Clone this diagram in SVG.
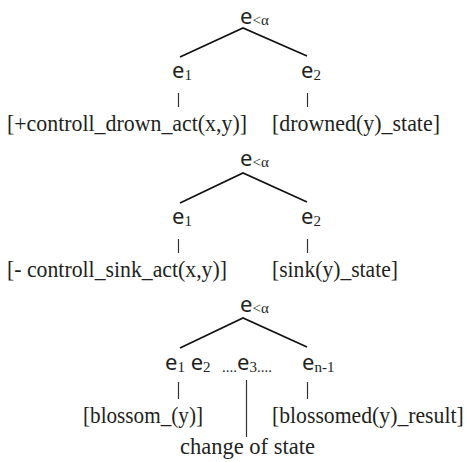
<svg xmlns="http://www.w3.org/2000/svg" width="467" height="462" viewBox="0 0 467 462">
  <style>
    .e { font-family: "Noto Sans", "Open Sans", sans-serif; font-size: 22px; fill: #231f20; }
    .sub { font-family: "Liberation Serif", "DejaVu Serif", serif; font-size: 15px; }
    .lbl { font-family: "Liberation Serif", "DejaVu Serif", serif; font-size: 24px; fill: #231f20; }
    .br { stroke: #111; stroke-width: 1.6; fill: none; }
    .tick { stroke: #333; stroke-width: 1.2; fill: none; }
  </style>
  <rect width="467" height="462" fill="#fff"/>

  <!-- connectors: branches and vertical ticks -->
  <g id="connectors">
    <!-- tree 1 -->
    <polyline class="br" points="180,57 243,28 307,56"/>
    <line class="tick" x1="178.5" y1="93" x2="178.5" y2="107"/>
    <line class="tick" x1="307.5" y1="93" x2="307.5" y2="107"/>
    <!-- tree 2 -->
    <polyline class="br" points="180,203 243,173 307,202"/>
    <line class="tick" x1="178.5" y1="239" x2="178.5" y2="253"/>
    <line class="tick" x1="307.5" y1="239" x2="307.5" y2="253"/>
    <!-- tree 3 -->
    <polyline class="br" points="180,348 243,318 307,347"/>
    <line class="tick" x1="178.5" y1="382" x2="178.5" y2="399"/>
    <line class="tick" x1="246.5" y1="380" x2="246.5" y2="437"/>
    <line class="tick" x1="307.5" y1="382" x2="307.5" y2="399"/>
  </g>

  <!-- tree 1: drown -->
  <g id="t1-root"><text class="e" x="240" y="23.5">e<tspan class="sub" dy="1">&lt;α</tspan></text></g>
  <g id="t1-e1"><text class="e" x="172" y="78">e<tspan class="sub" dy="2">1</tspan></text></g>
  <g id="t1-e2"><text class="e" x="301" y="78">e<tspan class="sub" dy="2">2</tspan></text></g>
  <g id="t1-act"><text class="lbl" x="7" y="131" textLength="240" lengthAdjust="spacingAndGlyphs">[+controll_drown_act(x,y)]</text></g>
  <g id="t1-state"><text class="lbl" x="272" y="131" textLength="168" lengthAdjust="spacingAndGlyphs">[drowned(y)_state]</text></g>

  <!-- tree 2: sink -->
  <g id="t2-root"><text class="e" x="240" y="166">e<tspan class="sub" dy="1">&lt;α</tspan></text></g>
  <g id="t2-e1"><text class="e" x="172" y="224">e<tspan class="sub" dy="2">1</tspan></text></g>
  <g id="t2-e2"><text class="e" x="301" y="224">e<tspan class="sub" dy="2">2</tspan></text></g>
  <g id="t2-act"><text class="lbl" x="7" y="277" textLength="220" lengthAdjust="spacingAndGlyphs">[- controll_sink_act(x,y)]</text></g>
  <g id="t2-state"><text class="lbl" x="272" y="277" textLength="126" lengthAdjust="spacingAndGlyphs">[sink(y)_state]</text></g>

  <!-- tree 3: blossom -->
  <g id="t3-root"><text class="e" x="240" y="312">e<tspan class="sub" dy="1">&lt;α</tspan></text></g>
  <g id="t3-e1e2"><text class="e" x="165" y="370">e<tspan class="sub" dy="2">1</tspan><tspan dy="-2"> e</tspan><tspan class="sub" dy="2">2</tspan></text></g>
  <g id="t3-e3"><text class="e" x="222" y="370"><tspan class="sub" dy="2">....</tspan><tspan dy="-2">e</tspan><tspan class="sub" dy="2">3....</tspan></text></g>
  <g id="t3-en1"><text class="e" x="302" y="370">e<tspan class="sub" dy="2">n-1</tspan></text></g>
  <g id="t3-act"><text class="lbl" x="83" y="423" textLength="120" lengthAdjust="spacingAndGlyphs">[blossom_(y)]</text></g>
  <!-- narrowed horizontally so it ends just inside the right edge -->
  <g id="t3-result" transform="translate(272,423) scale(0.905,1)"><text class="lbl" x="0" y="0">[blossomed(y)_result]</text></g>
  <g id="t3-change"><text class="lbl" x="180" y="454" textLength="135" lengthAdjust="spacingAndGlyphs">change of state</text></g>
</svg>
